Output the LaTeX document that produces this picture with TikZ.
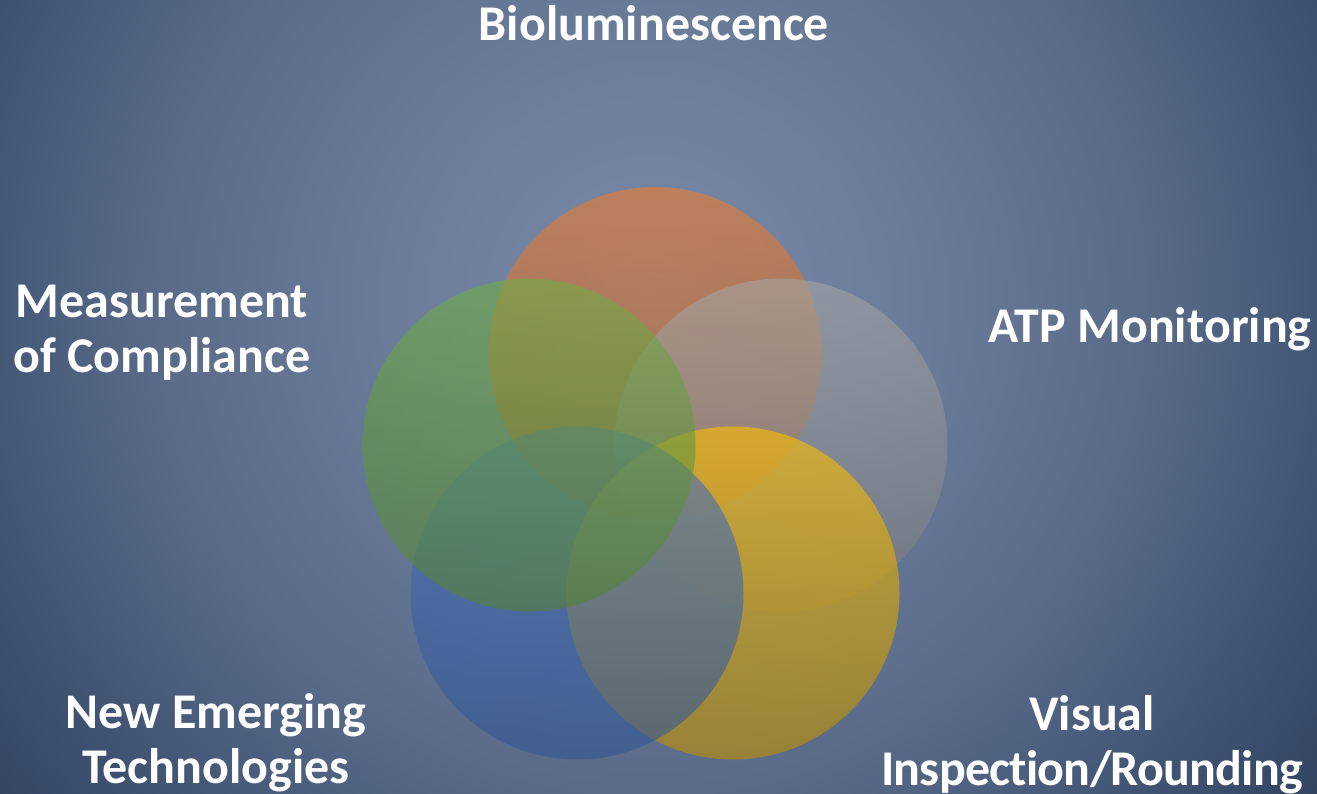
\documentclass[tikz,border=0pt]{standalone}
\usepackage{fontspec}
\setmainfont{Carlito}[Ligatures={NoCommon}]
\definecolor{bgin}{RGB}{120,138,168}
\definecolor{bgA}{RGB}{107,125,155}
\definecolor{bgB}{RGB}{88,106,136}
\definecolor{bgC}{RGB}{63,82,114}
\definecolor{bgD}{RGB}{50,67,97}
\definecolor{bgE}{RGB}{48,64,94}
\definecolor{corange}{RGB}{237,125,49}
\definecolor{cgray}{RGB}{165,165,165}
\definecolor{cyellow}{RGB}{255,192,0}
\definecolor{cblue}{RGB}{68,114,196}
\definecolor{cgreen}{RGB}{112,173,71}
\pgfdeclareradialshading{bgshade}{\pgfpointorigin}{color(0bp)=(bgin); color(7bp)=(bgA); color(14bp)=(bgB); color(19.5bp)=(bgC); color(23.5bp)=(bgD); color(25bp)=(bgE); color(50bp)=(bgE)}
\tikzset{
  venn/.style={circle, inner sep=0pt, minimum size=333pt, fill opacity=0.6,
    top color=#1, bottom color=#1!75!black, draw=none},
  lbl/.style={text=white, font=\bfseries\fontsize{50}{55}\selectfont, align=center, inner sep=0pt, anchor=base}
}
\begin{document}
\begin{tikzpicture}[x=1pt,y=-1pt]
\useasboundingbox (0,0) rectangle (1317,794);
\begin{scope}
\clip (0,0) rectangle (1317,794);
\shade[shading=bgshade] (650,300) circle[radius=900pt];
\end{scope}
\node[venn=corange] (orange) at (655,353.5) {};
\node[venn=cgray] (gray) at (781,445) {};
\node[venn=cyellow] (yellow) at (733,593) {};
\node[venn=cblue] (blue) at (577,593) {};
\node[venn=cgreen] (green) at (529,445) {};
\node[lbl] (bio) at (654,41) {Bioluminescence};
\node[lbl] (atp) at (1150,342) {ATP Monitoring};
\node[lbl] (vis) at (1092,785) {Visual\\{\addfontfeature{LetterSpace=-1.5}Inspection/Rounding}};
\node[lbl] (new) at (216,783) {New Emerging\\Technologies};
\node[lbl] (meas) at (162,372) {Measurement\\of Compliance};
\end{tikzpicture}
\end{document}
